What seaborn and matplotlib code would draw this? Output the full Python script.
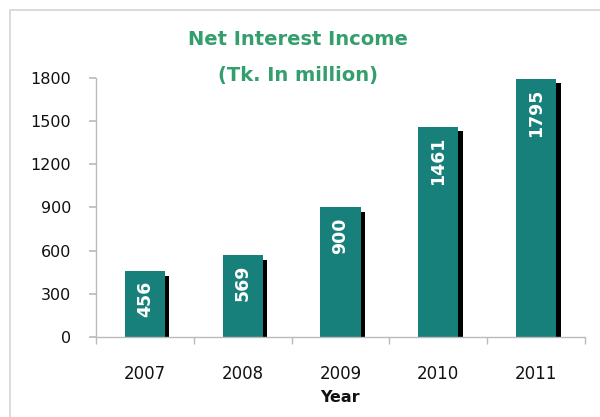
import matplotlib
matplotlib.use("Agg")
import matplotlib.pyplot as plt
import matplotlib.patheffects as pe
from matplotlib.patches import Rectangle
import seaborn as sns
import pandas as pd

years = ["2007", "2008", "2009", "2010", "2011"]
income = [456, 569, 900, 1461, 1795]
y_ticks = [0, 300, 600, 900, 1200, 1500, 1800]

sns.set_theme(style="white")
plt.rcParams["font.family"] = ["DejaVu Sans"]

df = pd.DataFrame({"Year": years, "Income": income})

fig = plt.figure(figsize=(6, 4.17), dpi=100)
ax = fig.add_axes([0.16, 0.192, 0.815, 0.621])

bar_color = "#18807a"
sns.barplot(data=df, x="Year", y="Income", color=bar_color, width=0.41,
            saturation=1, ax=ax)

shadow = [pe.SimplePatchShadow(offset=(3.2, -3.2), shadow_rgbFace="black", alpha=1.0),
          pe.Normal()]
for bar in ax.patches:
    bar.set_path_effects(shadow)
    bar.set_edgecolor("none")

for bar, val in zip(ax.patches, income):
    ax.annotate(f"{val}", xy=(bar.get_x() + bar.get_width() / 2, bar.get_height()),
                xytext=(0, -7), textcoords="offset points",
                rotation=90, ha="center", va="top", color="white",
                fontsize=12.5, fontweight="bold")

ax.set_ylim(0, 1800)
ax.set_xlim(-0.5, 4.5)
ax.set_yticks(y_ticks)
ax.set_yticklabels([str(t) for t in y_ticks], fontsize=11.5, color="#111111")
ax.set_xticks(range(len(years)))
ax.set_xticklabels(years, fontsize=12, color="#111111")
ax.set_xticks([i - 0.5 for i in range(len(years) + 1)], minor=True)
ax.tick_params(axis="x", which="major", length=0, pad=20)
ax.tick_params(axis="x", which="minor", length=5, color="#bbbbbb", direction="out",
               bottom=True)
ax.tick_params(axis="y", length=5, color="#bbbbbb", direction="out", left=True, pad=13)

ax.set_xlabel("Year", fontsize=11.5, fontweight="bold", labelpad=5, color="#111111")
ax.set_ylabel("")

for side in ["top", "right"]:
    ax.spines[side].set_visible(False)
for side in ["left", "bottom"]:
    ax.spines[side].set_color("#bbbbbb")
    ax.spines[side].set_linewidth(1.0)

fig.text(0.497, 0.905, "Net Interest Income", ha="center", va="center",
         fontsize=14, fontweight="bold", color="#349e6c")
fig.text(0.497, 0.82, "(Tk. In million)", ha="center", va="center",
         fontsize=14, fontweight="bold", color="#349e6c")

fig.patches.append(Rectangle((10 / 600, -0.1), 1.1, 1 - 10 / 417 + 0.1,
                             transform=fig.transFigure, fill=False,
                             edgecolor="#d4d4d4", linewidth=1.2))

fig.savefig("out.png", dpi=100)
